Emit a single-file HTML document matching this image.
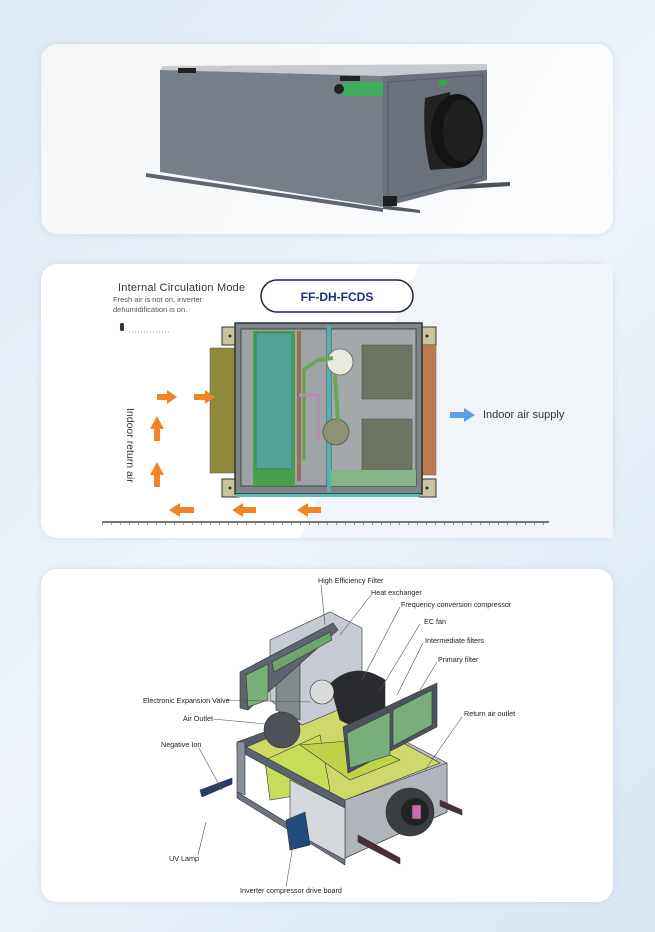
<!DOCTYPE html>
<html><head><meta charset="utf-8"><style>
html,body{margin:0;padding:0}
body{width:655px;height:932px;background:linear-gradient(135deg,#dfeaf4 0%,#eef4fa 50%,#d8e6f2 100%);position:relative;overflow:hidden;font-family:"Liberation Sans",sans-serif}
.card{position:absolute;left:41px;width:572px;background:#fff;border-radius:16px;box-shadow:0 0 6px rgba(150,180,210,.35)}
svg{position:absolute;left:0;top:0}
text{font-family:"Liberation Sans",sans-serif}
</style></head><body>
<div class="card" style="top:44px;height:190px;background:linear-gradient(120deg,#f4f6f8,#fbfcfd)"></div>
<div class="card" style="top:264px;height:274px"></div>
<div class="card" style="top:569px;height:333px"></div>
<svg width="655" height="932" viewBox="0 0 655 932">
<!-- Card 1 product -->
<polygon points="146,173 383,208 383,212 146,177" fill="#5e6570"/>
<polygon points="383,188 510,182 510,186 383,194" fill="#4a5059"/>
<polygon points="383,205 420,210 420,213 383,209" fill="#555b63"/>
<polygon points="163,66 487,64 487,70 383,76 160,70" fill="#c7cbd0"/>
<polygon points="160,70 383,76 383,207 160,172" fill="#767e88"/>
<polygon points="383,76 487,70 487,180 383,207" fill="#6a717b"/>
<polygon points="388,82 483,75 483,176 388,200" fill="none" stroke="#555c66" stroke-width="1"/>
<rect x="178" y="68" width="18" height="5" fill="#222"/>
<rect x="340" y="76" width="20" height="5" fill="#222"/>
<rect x="343" y="82" width="40" height="14" fill="#3fae5a"/>
<circle cx="339" cy="89" r="5" fill="#222"/>
<rect x="439" y="80" width="8" height="6" fill="#2ea84a"/>
<rect x="383" y="196" width="14" height="10" fill="#1e1e1e"/>
<path d="M425 98 L450 92 L458 168 L430 170 Q422 135 425 98Z" fill="#222"/>
<ellipse cx="457" cy="131" rx="26" ry="37" fill="#141414"/>
<ellipse cx="462" cy="131" rx="19" ry="31" fill="#202020"/>

<!-- Card 2 -->
<polygon points="420,264 613,264 613,538 300,538" fill="#f1f4f8"/>
<text x="118" y="291" font-size="11" fill="#333" letter-spacing=".2">Internal Circulation Mode</text>
<text x="113" y="302" font-size="7.5" fill="#555">Fresh air is not on, inverter</text>
<text x="113" y="312" font-size="7.5" fill="#555">dehumidification is on.</text>
<rect x="120" y="323" width="4" height="8" rx="1.5" fill="#2b3550"/>
<line x1="129" y1="332" x2="170" y2="332" stroke="#999" stroke-width="1" stroke-dasharray="1,2"/>
<rect x="261" y="280" width="152" height="32" rx="16" fill="#fff" stroke="#1d2741" stroke-width="1.5"/>
<text x="337" y="301" font-size="12" font-weight="bold" fill="#1f2f7a" text-anchor="middle">FF-DH-FCDS</text>
<!-- unit -->
<rect x="222" y="327" width="17" height="18" fill="#c9c49b" stroke="#333" stroke-width="1"/>
<rect x="222" y="479" width="17" height="18" fill="#c9c49b" stroke="#333" stroke-width="1"/>
<rect x="419" y="327" width="17" height="18" fill="#c9c49b" stroke="#333" stroke-width="1"/>
<rect x="419" y="479" width="17" height="18" fill="#c9c49b" stroke="#333" stroke-width="1"/>
<circle cx="230" cy="336" r="1.5" fill="#333"/><circle cx="230" cy="488" r="1.5" fill="#333"/>
<circle cx="427" cy="336" r="1.5" fill="#333"/><circle cx="427" cy="488" r="1.5" fill="#333"/>
<rect x="210" y="348" width="26" height="125" fill="#8f8a3a" stroke="#555" stroke-width=".5"/>
<rect x="420" y="345" width="16" height="130" fill="#b97a4d" stroke="#666" stroke-width=".5"/>
<rect x="235" y="323" width="187" height="171" fill="#7d8588" stroke="#2c3338" stroke-width="1.5"/>
<rect x="241" y="329" width="86" height="157" fill="#9ea3a5" stroke="#333" stroke-width=".8"/>
<rect x="331" y="329" width="85" height="157" fill="#a4a8aa" stroke="#333" stroke-width=".8"/>
<rect x="253" y="331" width="42" height="155" fill="#49a04c"/>
<rect x="256" y="333" width="36" height="136" fill="#4fa396" stroke="#2f6f66" stroke-width=".6"/>
<rect x="297" y="331" width="4" height="150" fill="#9a6c5a"/>
<rect x="327" y="326" width="4" height="166" fill="#4eb3b3"/>
<rect x="236" y="494" width="184" height="3" fill="#59bcbc"/>
<rect x="362" y="345" width="50" height="54" fill="#6c7563" stroke="#444" stroke-width=".5"/>
<rect x="362" y="419" width="50" height="52" fill="#6c7563" stroke="#444" stroke-width=".5"/>
<circle cx="340" cy="362" r="13" fill="#e8eadf" stroke="#666" stroke-width=".8"/>
<circle cx="336" cy="432" r="13" fill="#8c9178" stroke="#555" stroke-width=".8"/>
<path d="M303 370 L318 360 L333 358 M335 375 L338 420" stroke="#69a65c" stroke-width="4" fill="none"/>
<path d="M304 370 L304 460" stroke="#5da24e" stroke-width="3" fill="none"/>
<path d="M299 395 L318 395 L318 440" stroke="#b78ab4" stroke-width="3" fill="none"/>
<rect x="331" y="470" width="85" height="16" fill="#86b48a"/>
<!-- arrows -->
<g fill="#f08427">
<polygon points="157,394 167,394 167,390 177,397 167,404 167,400 157,400"/>
<polygon points="194,394 205,394 205,390 215,397 205,404 205,400 194,400"/>
<polygon points="154,441 160,441 160,429 164,429 157,416 150,429 154,429"/>
<polygon points="154,487 160,487 160,475 164,475 157,462 150,475 154,475"/>
<polygon points="194,507 180,507 180,503 169,510 180,517 180,513 194,513"/>
<polygon points="256,507 243,507 243,503 232,510 243,517 243,513 256,513"/>
<polygon points="321,507 308,507 308,503 297,510 308,517 308,513 321,513"/>
</g>
<polygon points="450,412 464,412 464,408 475,415 464,422 464,418 450,418" fill="#5aa0e6"/>
<text x="483" y="418" font-size="11" fill="#333">Indoor air supply</text>
<text transform="translate(127,408) rotate(90)" font-size="10.5" fill="#333">Indoor return air</text>
<line x1="102" y1="522" x2="549" y2="522" stroke="#777" stroke-width="2"/>
<line x1="102" y1="524" x2="549" y2="524" stroke="#999" stroke-width="2" stroke-dasharray="1,8"/>

<!-- Card 3 -->
<g stroke="#333" stroke-width=".6">
<polygon points="345,710 447,763 447,812 345,858 345,800 237,742" fill="#b9bcc4"/>
<polygon points="345,800 447,763 447,812 345,858" fill="#b0b4bb"/>
<polygon points="237,742 339,705 345,710 244,748" fill="#555d6a"/>
<polygon points="244,748 339,708 440,763 345,800" fill="#cfd86b"/>
<polygon points="265,760 320,735 330,790 270,800" fill="#c7dd59"/>
<polygon points="300,745 360,740 400,760 350,780" fill="#bfd24a"/>
<polygon points="237,742 345,800 345,808 237,750" fill="#5a6270"/>
<polygon points="237,742 245,742 245,795 237,792" fill="#8a909b"/>
<polygon points="237,792 345,858 345,865 237,798" fill="#6f7580"/>
<polygon points="290,780 345,808 345,860 290,830" fill="#d5d8dd"/>
<polygon points="286,820 305,812 310,845 290,850" fill="#234b7a"/>
<polygon points="358,835 400,858 400,864 358,842" fill="#4a2e38"/>
<polygon points="440,800 462,810 462,815 440,806" fill="#4a2e38"/>
<polygon points="200,790 232,778 232,784 202,797" fill="#2c3a6a"/>
<circle cx="410" cy="812" r="24" fill="#3a3d42"/>
<circle cx="415" cy="812" r="14" fill="#222"/>
<rect x="412" y="805" width="9" height="14" fill="#c76fb2"/>
<polygon points="270,640 330,612 362,628 362,700 302,725 270,700" fill="#c6cad2"/>
<polygon points="276,660 300,650 300,720 276,710" fill="#7f8a8d"/>
<circle cx="282" cy="730" r="18" fill="#4e5258"/>
<polygon points="240,672 333,623 338,630 248,710 240,708" fill="#5d6570"/>
<polygon points="246,675 268,664 268,700 248,707" fill="#78b07a"/>
<polygon points="272,662 330,632 332,640 274,672" fill="#6da36e"/>
<path d="M330 684 Q355 660 385 680 L385 720 Q360 732 340 720Z" fill="#2a2b2e"/>
<circle cx="322" cy="692" r="12" fill="#dadada"/>
<polygon points="343,727 437,683 437,727 348,773" fill="#4c535e"/>
<polygon points="347,733 390,712 390,755 350,768" fill="#78ae7a"/>
<polygon points="393,710 432,690 432,725 393,746" fill="#78ae7a"/>
</g>
<g stroke="#555" stroke-width=".6" fill="none">
<path d="M321 585 L325 625"/><path d="M371 595 L340 635"/><path d="M400 607 L362 680"/>
<path d="M420 624 L380 690"/><path d="M423 643 L397 695"/><path d="M437 662 L420 690"/>
<path d="M462 717 L425 770"/><path d="M227 700 L310 702"/><path d="M213 719 L266 724"/>
<path d="M199 748 L222 790"/><path d="M198 855 L206 822"/><path d="M286 887 L293 845"/>
</g>
<g font-size="7.2" fill="#222">
<text x="318" y="583">High Efficiency Filter</text>
<text x="371" y="595">Heat exchanger</text>
<text x="401" y="607">Frequency conversion compressor</text>
<text x="424" y="624">EC fan</text>
<text x="425" y="643">Intermediate filters</text>
<text x="438" y="662">Primary filter</text>
<text x="464" y="716">Return air outlet</text>
<text x="143" y="703">Electronic Expansion Valve</text>
<text x="183" y="721">Air Outlet</text>
<text x="161" y="747">Negative Ion</text>
<text x="169" y="861">UV Lamp</text>
<text x="240" y="893">Inverter compressor drive board</text>
</g>
</svg>
</body></html>
